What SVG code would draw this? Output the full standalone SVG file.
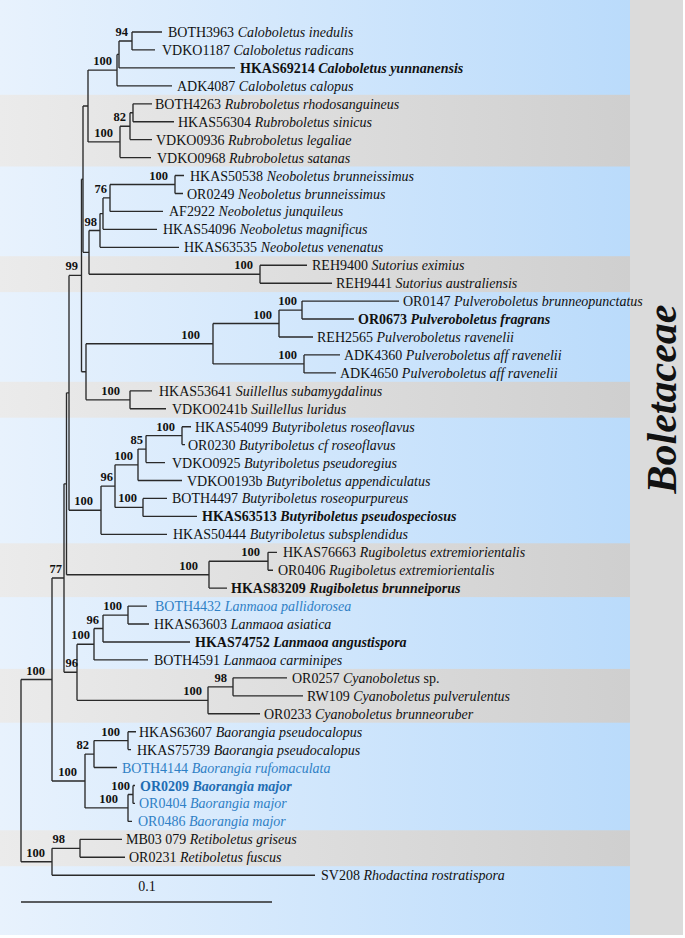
<svg xmlns="http://www.w3.org/2000/svg" width="685" height="938" viewBox="0 0 685 938">
<defs>
<linearGradient id="gBlue" x1="0" y1="0" x2="1" y2="0"><stop offset="0" stop-color="#e8f2fd"/><stop offset="1" stop-color="#badbfb"/></linearGradient>
<linearGradient id="gGray" x1="0" y1="0" x2="1" y2="0"><stop offset="0" stop-color="#ebebeb"/><stop offset="1" stop-color="#cfcfcf"/></linearGradient>
<style>
.br{fill:none;stroke:#2a2a2a;stroke-width:1.35}
.tx{font-family:"Liberation Serif","Times New Roman",serif;font-size:14px;fill:#111}
.tx tspan.i{font-style:italic}
.b{font-weight:bold}
.blue{fill:#2f80c5}
.bs{font-family:"Liberation Serif","Times New Roman",serif;font-size:12.5px;font-weight:bold;fill:#111;text-anchor:end}
.gray{fill:url(#gGray)}
</style>
</defs>
<g id="background">
<rect x="0" y="0" width="685" height="938" fill="#ffffff"/>
<rect x="0" y="0" width="630" height="935" fill="url(#gBlue)"/>
<rect x="630" y="0" width="53" height="935" fill="#dbdbdb"/>
<rect class="gray" x="0" y="94.8" width="630" height="71.7"/>
<rect class="gray" x="0" y="256.2" width="630" height="35.9"/>
<rect class="gray" x="0" y="381.8" width="630" height="35.9"/>
<rect class="gray" x="0" y="543.3" width="630" height="53.8"/>
<rect class="gray" x="0" y="668.9" width="630" height="53.8"/>
<rect class="gray" x="0" y="830.3" width="630" height="35.9"/>
</g>
<g id="connectors">
<path class="br" d="M132 32V49.9M132 32H162M132 49.9H155"/>
<path class="br" d="M119 41V67.9M119 41H132M119 67.9H235"/>
<path class="br" d="M117 54.4V85.8M117 54.4H119M117 85.8H172"/>
<path class="br" d="M88 70.1V141.9M88 70.1H117M88 141.9H120"/>
<path class="br" d="M133 103.8V121.7M133 103.8H152M133 121.7H174"/>
<path class="br" d="M130 112.7V139.6M130 112.7H133M130 139.6H152"/>
<path class="br" d="M120 126.2V157.6M120 126.2H130M120 157.6H151"/>
<path class="br" d="M175 175.5V193.5M175 175.5H184M175 193.5H183"/>
<path class="br" d="M110 184.5V211.4M110 184.5H175M110 211.4H163"/>
<path class="br" d="M103 197.9V229.3M103 197.9H110M103 229.3H157"/>
<path class="br" d="M100 213.6V247.3M100 213.6H103M100 247.3H179"/>
<path class="br" d="M260 265.2V283.2M260 265.2H307M260 283.2H332"/>
<path class="br" d="M89 230.5V274.2M89 230.5H100M89 274.2H260"/>
<path class="br" d="M83 106V252.3M83 106H88M83 252.3H89"/>
<path class="br" d="M302 301.1V319M302 301.1H399M302 319H354"/>
<path class="br" d="M279 310.1V337M279 310.1H302M279 337H313"/>
<path class="br" d="M304 354.9V372.9M304 354.9H340M304 372.9H336"/>
<path class="br" d="M213 323.5V363.9M213 323.5H279M213 363.9H304"/>
<path class="br" d="M130 390.8V408.7M130 390.8H152M130 408.7H166"/>
<path class="br" d="M86 343.7V399.8M86 343.7H213M86 399.8H130"/>
<path class="br" d="M81.5 179.2V371.7M81.5 179.2H83M81.5 371.7H86"/>
<path class="br" d="M182 426.7V444.6M182 426.7H191M182 444.6H185"/>
<path class="br" d="M146 435.6V462.6M146 435.6H182M146 462.6H165"/>
<path class="br" d="M138 449.1V480.5M138 449.1H146M138 480.5H182"/>
<path class="br" d="M143 498.4V516.4M143 498.4H167M143 516.4H197"/>
<path class="br" d="M115 464.8V507.4M115 464.8H138M115 507.4H143"/>
<path class="br" d="M101 486.1V534.3M101 486.1H115M101 534.3H167"/>
<path class="br" d="M69 275.4V510.2M69 275.4H81.5M69 510.2H101"/>
<path class="br" d="M268 552.3V570.2M268 552.3H277M268 570.2H273"/>
<path class="br" d="M209 561.2V588.1M209 561.2H268M209 588.1H227"/>
<path class="br" d="M66.5 392.8V574.7M66.5 392.8H69M66.5 574.7H209"/>
<path class="br" d="M128 606.1V624M128 606.1H147M128 624H149"/>
<path class="br" d="M103 615.1V642M103 615.1H128M103 642H190"/>
<path class="br" d="M94 628.5V659.9M94 628.5H103M94 659.9H148"/>
<path class="br" d="M233 677.8V695.8M233 677.8H287M233 695.8H303"/>
<path class="br" d="M208 686.8V713.7M208 686.8H233M208 713.7H260"/>
<path class="br" d="M77 644.2V700.3M77 644.2H94M77 700.3H208"/>
<path class="br" d="M64 483.8V672.2M64 483.8H66.5M64 672.2H77"/>
<path class="br" d="M128 731.7V749.6M128 731.7H136M128 749.6H131"/>
<path class="br" d="M94 740.6V767.5M94 740.6H128M94 767.5H117"/>
<path class="br" d="M133 785.5V803.4M133 785.5H135M133 803.4H135"/>
<path class="br" d="M128 794.5V821.4M128 794.5H133M128 821.4H132"/>
<path class="br" d="M85 754.1V807.9M85 754.1H94M85 807.9H128"/>
<path class="br" d="M52 578V781M52 578H64M52 781H85"/>
<path class="br" d="M80 839.3V857.2M80 839.3H122M80 857.2H125"/>
<path class="br" d="M52 848.3V875.2M52 848.3H80M52 875.2H315"/>
<path class="br" d="M21 679.5V861.7M21 679.5H52M21 861.7H52"/>
<path class="br" d="M21 902H272"/>
</g>
<g id="support">
<text class="bs" x="128" y="36">94</text>
<text class="bs" x="112" y="65">100</text>
<text class="bs" x="126" y="121">82</text>
<text class="bs" x="113" y="137">100</text>
<text class="bs" x="168" y="179.5">100</text>
<text class="bs" x="107" y="193">76</text>
<text class="bs" x="97" y="225.5">98</text>
<text class="bs" x="253" y="269">100</text>
<text class="bs" x="78" y="270">99</text>
<text class="bs" x="297" y="305">100</text>
<text class="bs" x="272" y="318.5">100</text>
<text class="bs" x="200" y="338.7">100</text>
<text class="bs" x="297" y="359">100</text>
<text class="bs" x="120" y="395">100</text>
<text class="bs" x="175" y="430.6">100</text>
<text class="bs" x="143" y="444">85</text>
<text class="bs" x="133" y="460">100</text>
<text class="bs" x="113" y="481">96</text>
<text class="bs" x="137" y="502.4">100</text>
<text class="bs" x="93" y="505">100</text>
<text class="bs" x="260" y="556">100</text>
<text class="bs" x="198" y="570">100</text>
<text class="bs" x="62" y="573">77</text>
<text class="bs" x="122" y="610">100</text>
<text class="bs" x="99" y="623.5">96</text>
<text class="bs" x="90" y="639">100</text>
<text class="bs" x="78" y="667">96</text>
<text class="bs" x="227" y="682">98</text>
<text class="bs" x="202" y="695">100</text>
<text class="bs" x="45" y="674.5">100</text>
<text class="bs" x="120" y="735.6">100</text>
<text class="bs" x="89" y="749">82</text>
<text class="bs" x="130" y="789.5">100</text>
<text class="bs" x="118" y="803">100</text>
<text class="bs" x="77" y="776">100</text>
<text class="bs" x="65" y="843">98</text>
<text class="bs" x="45" y="856.7">100</text>
</g>
<g id="taxa">
<g id="t1"><text class="tx" x="168" y="37">BOTH3963 <tspan class="i">Caloboletus inedulis</tspan></text></g>
<g id="t2"><text class="tx" x="162" y="54.9">VDKO1187 <tspan class="i">Caloboletus radicans</tspan></text></g>
<g id="t3"><text class="tx b" x="240" y="72.9">HKAS69214 <tspan class="i">Caloboletus yunnanensis</tspan></text></g>
<g id="t4"><text class="tx" x="177" y="90.8">ADK4087 <tspan class="i">Caloboletus calopus</tspan></text></g>
<g id="t5"><text class="tx" x="155" y="108.8">BOTH4263 <tspan class="i">Rubroboletus rhodosanguineus</tspan></text></g>
<g id="t6"><text class="tx" x="178" y="126.7">HKAS56304 <tspan class="i">Rubroboletus sinicus</tspan></text></g>
<g id="t7"><text class="tx" x="156" y="144.6">VDKO0936 <tspan class="i">Rubroboletus legaliae</tspan></text></g>
<g id="t8"><text class="tx" x="157" y="162.6">VDKO0968 <tspan class="i">Rubroboletus satanas</tspan></text></g>
<g id="t9"><text class="tx" x="190" y="180.5">HKAS50538 <tspan class="i">Neoboletus brunneissimus</tspan></text></g>
<g id="t10"><text class="tx" x="187" y="198.5">OR0249 <tspan class="i">Neoboletus brunneissimus</tspan></text></g>
<g id="t11"><text class="tx" x="169" y="216.4">AF2922 <tspan class="i">Neoboletus junquileus</tspan></text></g>
<g id="t12"><text class="tx" x="163" y="234.3">HKAS54096 <tspan class="i">Neoboletus magnificus</tspan></text></g>
<g id="t13"><text class="tx" x="184" y="252.3">HKAS63535 <tspan class="i">Neoboletus venenatus</tspan></text></g>
<g id="t14"><text class="tx" x="312" y="270.2">REH9400 <tspan class="i">Sutorius eximius</tspan></text></g>
<g id="t15"><text class="tx" x="336" y="288.2">REH9441 <tspan class="i">Sutorius australiensis</tspan></text></g>
<g id="t16"><text class="tx" x="403" y="306.1">OR0147 <tspan class="i">Pulveroboletus brunneopunctatus</tspan></text></g>
<g id="t17"><text class="tx b" x="358" y="324">OR0673 <tspan class="i">Pulveroboletus fragrans</tspan></text></g>
<g id="t18"><text class="tx" x="317" y="342">REH2565 <tspan class="i">Pulveroboletus ravenelii</tspan></text></g>
<g id="t19"><text class="tx" x="344" y="359.9">ADK4360 <tspan class="i">Pulveroboletus aff ravenelii</tspan></text></g>
<g id="t20"><text class="tx" x="340" y="377.9">ADK4650 <tspan class="i">Pulveroboletus aff ravenelii</tspan></text></g>
<g id="t21"><text class="tx" x="159" y="395.8">HKAS53641 <tspan class="i">Suillellus subamygdalinus</tspan></text></g>
<g id="t22"><text class="tx" x="172" y="413.7">VDKO0241b <tspan class="i">Suillellus luridus</tspan></text></g>
<g id="t23"><text class="tx" x="195" y="431.7">HKAS54099 <tspan class="i">Butyriboletus roseoflavus</tspan></text></g>
<g id="t24"><text class="tx" x="188" y="449.6">OR0230 <tspan class="i">Butyriboletus cf roseoflavus</tspan></text></g>
<g id="t25"><text class="tx" x="172" y="467.6">VDKO0925 <tspan class="i">Butyriboletus pseudoregius</tspan></text></g>
<g id="t26"><text class="tx" x="187" y="485.5">VDKO0193b <tspan class="i">Butyriboletus appendiculatus</tspan></text></g>
<g id="t27"><text class="tx" x="172" y="503.4">BOTH4497 <tspan class="i">Butyriboletus roseopurpureus</tspan></text></g>
<g id="t28"><text class="tx b" x="202" y="521.4">HKAS63513 <tspan class="i">Butyriboletus pseudospeciosus</tspan></text></g>
<g id="t29"><text class="tx" x="173" y="539.3">HKAS50444 <tspan class="i">Butyriboletus subsplendidus</tspan></text></g>
<g id="t30"><text class="tx" x="283" y="557.3">HKAS76663 <tspan class="i">Rugiboletus extremiorientalis</tspan></text></g>
<g id="t31"><text class="tx" x="278" y="575.2">OR0406 <tspan class="i">Rugiboletus extremiorientalis</tspan></text></g>
<g id="t32"><text class="tx b" x="231" y="593.1">HKAS83209 <tspan class="i">Rugiboletus brunneiporus</tspan></text></g>
<g id="t33"><text class="tx blue" x="155" y="611.1">BOTH4432 <tspan class="i">Lanmaoa pallidorosea</tspan></text></g>
<g id="t34"><text class="tx" x="154" y="629">HKAS63603 <tspan class="i">Lanmaoa asiatica</tspan></text></g>
<g id="t35"><text class="tx b" x="195" y="647">HKAS74752 <tspan class="i">Lanmaoa angustispora</tspan></text></g>
<g id="t36"><text class="tx" x="154" y="664.9">BOTH4591 <tspan class="i">Lanmaoa carminipes</tspan></text></g>
<g id="t37"><text class="tx" x="292" y="682.8">OR0257 <tspan class="i">Cyanoboletus</tspan> sp.</text></g>
<g id="t38"><text class="tx" x="307" y="700.8">RW109 <tspan class="i">Cyanoboletus pulverulentus</tspan></text></g>
<g id="t39"><text class="tx" x="264" y="718.7">OR0233 <tspan class="i">Cyanoboletus brunneoruber</tspan></text></g>
<g id="t40"><text class="tx" x="139" y="736.7">HKAS63607 <tspan class="i">Baorangia pseudocalopus</tspan></text></g>
<g id="t41"><text class="tx" x="137" y="754.6">HKAS75739 <tspan class="i">Baorangia pseudocalopus</tspan></text></g>
<g id="t42"><text class="tx blue" x="122" y="772.5">BOTH4144 <tspan class="i">Baorangia rufomaculata</tspan></text></g>
<g id="t43"><text class="tx b blue" x="140" y="790.5" style="fill:#1f6db3">OR0209 <tspan class="i">Baorangia major</tspan></text></g>
<g id="t44"><text class="tx blue" x="139" y="808.4">OR0404 <tspan class="i">Baorangia major</tspan></text></g>
<g id="t45"><text class="tx blue" x="138" y="826.4">OR0486 <tspan class="i">Baorangia major</tspan></text></g>
<g id="t46"><text class="tx" x="126" y="844.3">MB03 079 <tspan class="i">Retiboletus griseus</tspan></text></g>
<g id="t47"><text class="tx" x="129" y="862.2">OR0231 <tspan class="i">Retiboletus fuscus</tspan></text></g>
<g id="t48"><text class="tx" x="321" y="880.2">SV208 <tspan class="i">Rhodactina rostratispora</tspan></text></g>
</g>
<g id="scale">
<text class="tx" x="147" y="891" text-anchor="middle">0.1</text>
</g>
<g id="family">
<text transform="translate(676,399) rotate(-90)" x="0" y="0" text-anchor="middle" style="font-family:'Liberation Serif','Times New Roman',serif;font-size:42px;font-weight:bold;font-style:italic;fill:#111">Boletaceae</text>
</g>
</svg>
